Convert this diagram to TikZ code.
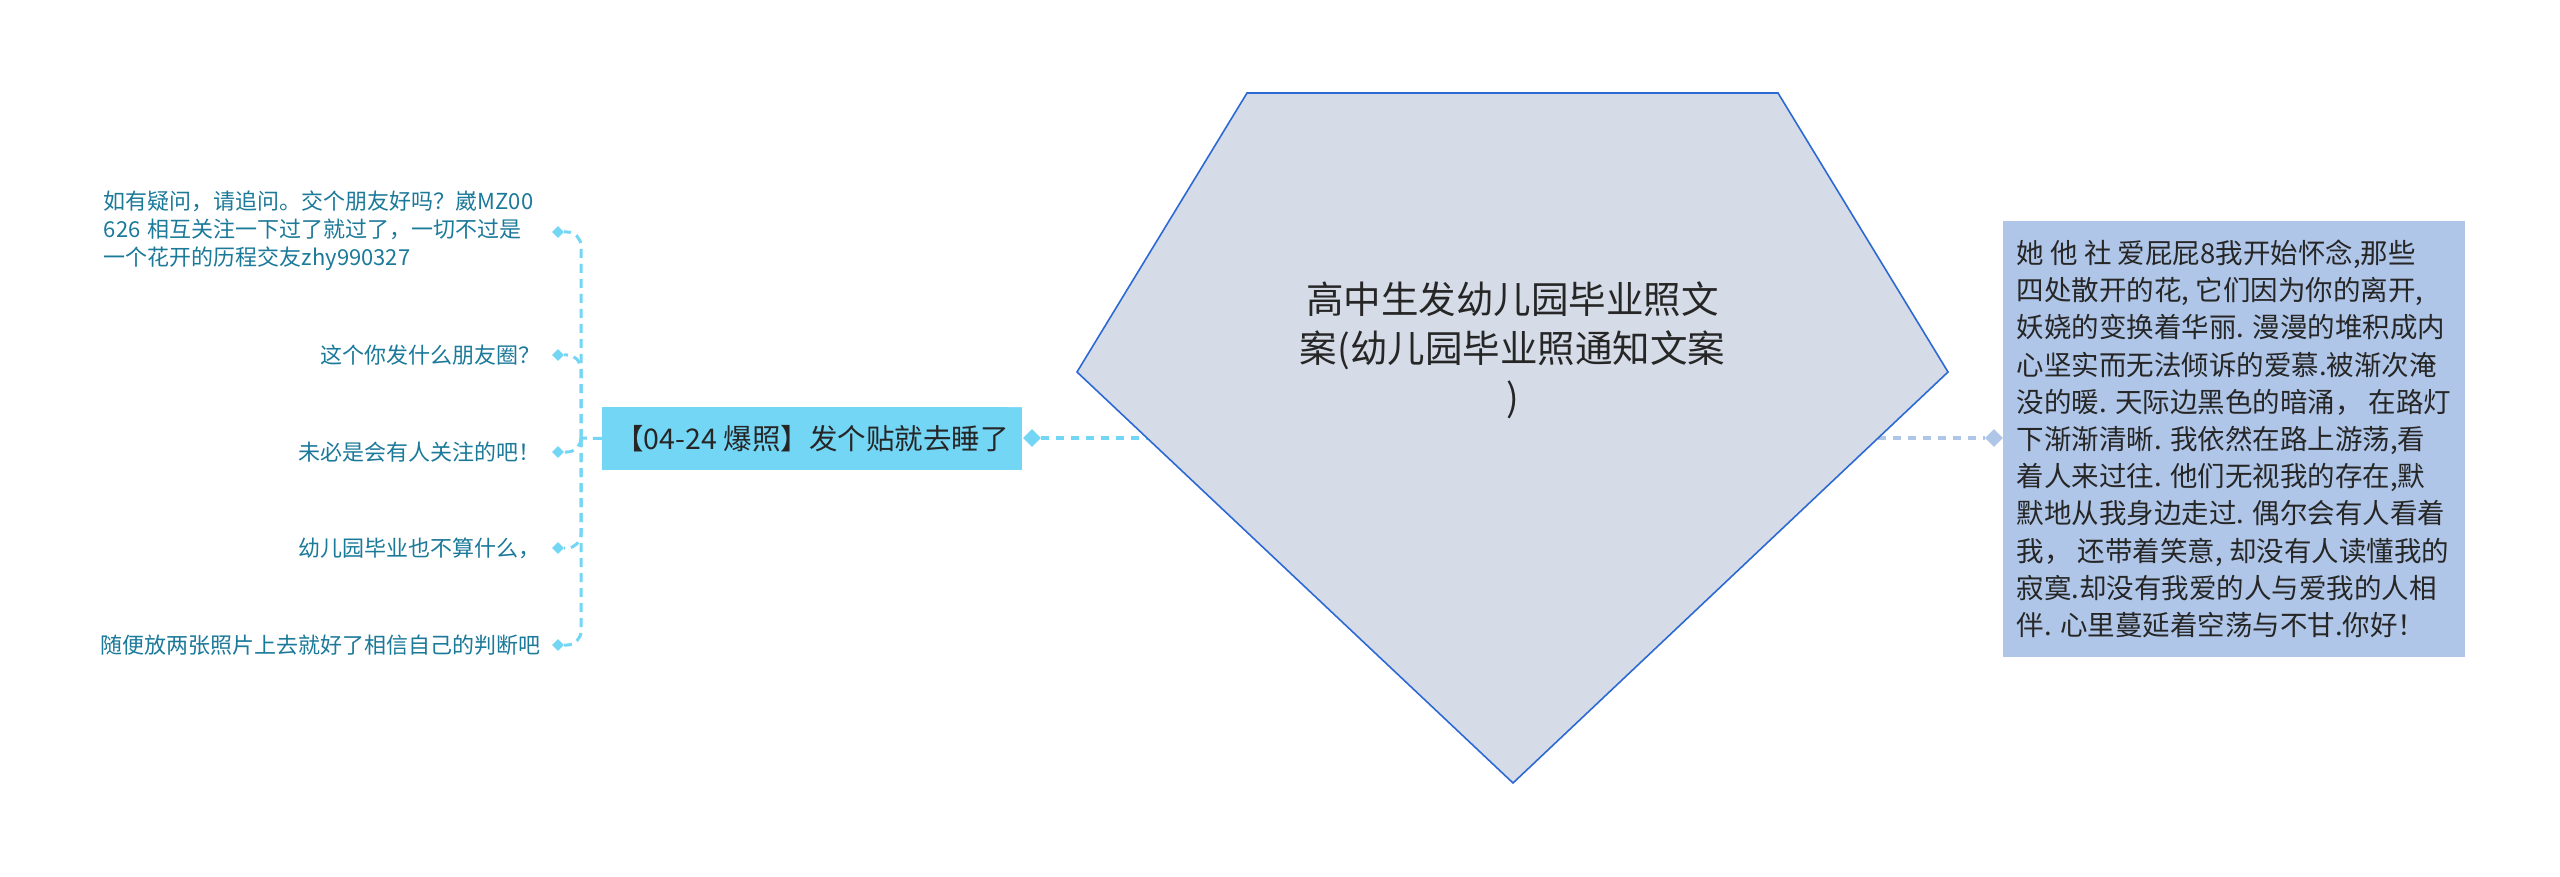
\documentclass[tikz,border=0pt]{standalone}
\usepackage{fontspec}
\setmainfont{Noto Sans CJK SC}
\usetikzlibrary{shapes.geometric,backgrounds}
\definecolor{cyanfill}{RGB}{116,214,245}
\definecolor{bluefill}{RGB}{176,198,232}
\definecolor{pentfill}{RGB}{213,220,231}
\definecolor{pentline}{RGB}{45,105,212}
\definecolor{kidtext}{RGB}{27,121,153}
\definecolor{maintext}{RGB}{38,38,38}
\tikzset{
  lconn/.style={draw=cyanfill, line width=4pt, dash pattern=on 8pt off 7pt},
  rconn/.style={draw=bluefill, line width=4pt, dash pattern=on 8pt off 7pt},
  tconn/.style={draw=cyanfill, line width=3pt, dash pattern=on 9pt off 6pt, rounded corners=14pt},
  kid/.style={text=kidtext, font=\fontsize{22pt}{28pt}\selectfont, inner sep=0pt, anchor=east},
  kdia/.style={diamond, fill=cyanfill, minimum width=12pt, minimum height=12pt, inner sep=0pt},
  bigdia/.style={diamond, minimum width=18pt, minimum height=18pt, inner sep=0pt},
  chamf/.style={path picture={\fill[white] (path picture bounding box.north east) -- ++(-#1,0) -- ++(#1,#1) -- cycle;}},
}
\begin{document}
\begin{tikzpicture}[x=1pt,y=-1pt]
\useasboundingbox (0,0) rectangle (2560,877);
% pentagon
\coordinate (p1) at (1247,93);
\coordinate (p2) at (1778,93);
\coordinate (p3) at (1948,372);
\coordinate (p4) at (1513,783);
\coordinate (p5) at (1077,372);
\coordinate (pL) at (1147,438);
\coordinate (pR) at (1878,438);
\draw[fill=pentfill, draw=pentline, line width=1.6pt, line join=miter] (p1) -- (p2) -- (p3) -- (p4) -- (p5) -- cycle;
\node[text=maintext, align=center, font=\fontsize{37.5pt}{49pt}\selectfont, inner sep=0pt] (C) at (1512.5,350)
  {高中生发幼儿园毕业照文\\案(幼儿园毕业照通知文案\\)};

% left main node
\node[rectangle, fill=cyanfill, chamf=15pt, minimum width=420pt, minimum height=63pt, inner sep=0pt,
  text=maintext, font=\fontsize{28.5pt}{34pt}\selectfont] (L) at (812,438.5) {【04-24 爆照】发个贴就去睡了};
\node[bigdia, fill=cyanfill] (ld) at (1032,438) {};

% right main node
\node[rectangle, fill=bluefill, chamf=13pt, minimum width=462pt, minimum height=436pt,
  inner sep=0pt, align=left, text=maintext, font=\fontsize{27.5pt}{37.2pt}\selectfont] (R) at (2234,439)
  {她 他 社 爱屁屁8我开始怀念,那些\\
   四处散开的花, 它们因为你的离开,\\
   妖娆的变换着华丽. 漫漫的堆积成内\\
   心坚实而无法倾诉的爱慕.被渐次淹\\
   没的暖. 天际边黑色的暗涌， 在路灯\\
   下渐渐清晰. 我依然在路上游荡,看\\
   着人来过往. 他们无视我的存在,默\\
   默地从我身边走过. 偶尔会有人看着\\
   我， 还带着笑意, 却没有人读懂我的\\
   寂寞.却没有我爱的人与爱我的人相\\
   伴. 心里蔓延着空荡与不甘.你好！};
\node[bigdia, fill=bluefill] (rd) at (1994,438) {};

% children
\node[kid, text width=437pt, align=left] (c1) at (541,231)
  {如有疑问，请追问。交个朋友好吗？崴MZ00\\626 相互关注一下过了就过了，一切不过是\\一个花开的历程交友zhy990327};
\node[kid] (c2) at (541,355) {这个你发什么朋友圈？};
\node[kid] (c3) at (541,452) {未必是会有人关注的吧！};
\node[kid] (c4) at (541,548) {幼儿园毕业也不算什么，};
\node[kid] (c5) at (541,645) {随便放两张照片上去就好了相信自己的判断吧};
\node[kdia] (k1) at (558,232) {};
\node[kdia] (k2) at (558,355) {};
\node[kdia] (k3) at (558,452) {};
\node[kdia] (k4) at (558,548) {};
\node[kdia] (k5) at (558,645) {};
\coordinate (trunk) at (581,438);

\begin{scope}[on background layer]
\fill[white] (0,0) rectangle (2560,877);
\draw[lconn] (ld) -- (pL);
\draw[rconn] (pR) -- (rd);
\draw[tconn] (L.west) -- (trunk);
\draw[tconn] (trunk) |- (k1);
\draw[tconn] (trunk) |- (k2);
\draw[tconn] (trunk) |- (k3);
\draw[tconn] (trunk) |- (k4);
\draw[tconn] (trunk) |- (k5);
\end{scope}
\end{tikzpicture}
\end{document}
